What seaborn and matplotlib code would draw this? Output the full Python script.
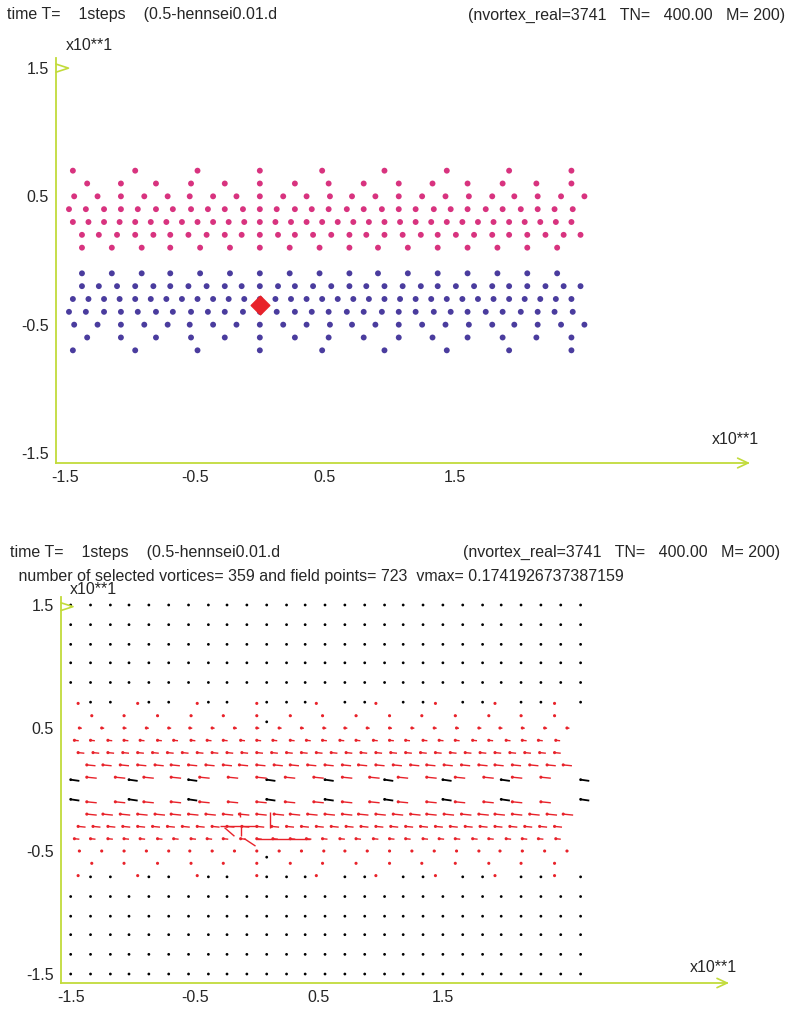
import matplotlib.pyplot as plt
import pandas as pd
import seaborn as sns
from matplotlib.collections import LineCollection

# vortex x positions (data units) of the upper band rows y=7..1; lower band mirrors it
ROW7_X = [-14.4, -9.6, -4.8, 0.0, 4.8, 9.6, 14.4, 19.2, 24.0]
ROW6_X = [-13.3, -10.7, -8.0, -5.3, -2.7, 0.0, 2.7, 5.3, 8.0, 10.7, 13.3, 16.0, 18.7, 21.3, 24.0]
ROW5_X = [-14.3, -12.5, -10.7, -8.9, -7.1, -5.4, -3.6, -1.8, 0.0, 1.8, 3.6, 5.4, 7.1, 8.9,
          10.7, 12.5, 14.3, 16.1, 17.9, 19.6, 21.4, 23.2, 25.0]
ROW4_X = [-14.7, -13.4, -12.0, -10.7, -9.4, -8.0, -6.7, -5.3, -4.0, -2.7, -1.3, 0.0, 1.3, 2.7,
          4.0, 5.3, 6.7, 8.0, 9.4, 10.7, 12.0, 13.4, 14.7, 16.0, 17.4, 18.7, 20.1, 21.4, 22.7, 24.1]
ROW3_X = [-14.4, -13.2, -12.0, -10.8, -9.6, -8.4, -7.2, -6.0, -4.8, -3.6, -2.4, -1.2, 0.0, 1.2,
          2.4, 3.6, 4.8, 6.0, 7.2, 8.4, 9.6, 10.8, 12.0, 13.2, 14.4, 15.6, 16.8, 18.0, 19.2,
          20.4, 21.6, 22.8, 24.0]
ROW2_X = [-13.7, -12.4, -11.0, -9.6, -8.2, -6.9, -5.5, -4.1, -2.7, -1.4, 0.0, 1.4, 2.7, 4.1,
          5.5, 6.9, 8.2, 9.6, 11.0, 12.4, 13.7, 15.1, 16.5, 17.9, 19.2, 20.6, 22.0, 23.4, 24.7]
ROW1_X = [-13.7, -11.4, -9.1, -6.9, -4.6, -2.3, 0.0, 2.3, 4.6, 6.9, 9.1, 11.4, 13.7, 16.0,
          18.3, 20.6, 22.9]
ROW_Y = [7, 6, 5, 4, 3, 2, 1]

SPECIAL_X, SPECIAL_Y = 0.0, -3.5

# horizontal velocity tail per vortex row (upper rows 7..1, lower rows -1..-7)
TAIL_UPPER = [0.0, 0.1, 0.2, 0.35, 0.5, 0.7, 0.8]
TAIL_LOWER = [0.8, 0.8, 0.6, 0.4, 0.1, 0.0, 0.0]

# large velocities around the marked vortex: x0, y0, x1, y1
SPECIAL_SEGS = [
    (-1.35, -1.8, -1.35, -2.2),
    (-1.3, -3.0, -1.3, -3.8),
    (1.1, -1.8, 1.1, -3.1),
    (-3.0, -3.0, 0.1, -3.0),
    (0.0, -4.0, 4.3, -4.0),
    (-2.6, -3.1, -1.8, -3.8),
    (-1.0, -4.0, -0.1, -4.6),
]

# field grid of the lower panel
GRID_X = [-15.0, -13.4, -11.8, -10.3, -8.7, -7.1, -5.5, -3.9, -2.4, -0.8, 0.8, 2.4, 3.9, 5.5,
          7.1, 8.7, 10.3, 11.8, 13.4, 15.0, 16.6, 18.2, 19.7, 21.3, 22.9, 24.5, 26.1]
GRID_Y = [15.0, 13.4, 11.8, 10.3, 8.7, 7.1, 5.5, 3.9, 2.4, 0.8, -0.8, -2.4, -3.9, -5.5, -7.1,
          -8.7, -10.3, -11.8, -13.4, -15.0]
# '.' field point, '>' field point with visible velocity, ' ' dropped (too close to a vortex)
FIELD_MASK = [
    "...........................",
    "...........................",
    "...........................",
    "...........................",
    "...........................",
    " .. .. .. ... .. .. .. .. .",
    "          .                ",
    "                           ",
    "                           ",
    ">  >  >   >  >  >  >  >   >",
    ">  >  >   >  >  >  >  >   >",
    "                           ",
    "                           ",
    "          .                ",
    " .. .. .. ... .. .. .. .. .",
    "...........................",
    "...........................",
    "...........................",
    "...........................",
    "...........................",
]
FIELD_TAIL = 0.7

PINK = "#d8337f"
BLUE = "#4a3c9e"
RED = "#e8222a"
AXIS = "#c2db3a"

W, H = 791, 1010
FONT = ["Liberation Sans", "DejaVu Sans"]
FS = 11.5


def vortex_frame() -> pd.DataFrame:
    rows = [ROW7_X, ROW6_X, ROW5_X, ROW4_X, ROW3_X, ROW2_X, ROW1_X]
    recs = []
    for y, xs, tu, tl in zip(ROW_Y, rows, TAIL_UPPER, TAIL_LOWER[::-1]):
        for x in xs:
            recs.append({"x": x, "y": y, "band": "upper", "tail": tu})
            recs.append({"x": x, "y": -y, "band": "lower", "tail": tl})
    return pd.DataFrame(recs)


def field_frame() -> pd.DataFrame:
    recs = []
    for y, line in zip(GRID_Y, FIELD_MASK):
        for x, c in zip(GRID_X, line):
            if c != " ":
                recs.append({"x": x, "y": y, "arrow": c == ">"})
    return pd.DataFrame(recs)


def px_axes(fig, left, top, right, bottom):
    return fig.add_axes([left / W, 1 - bottom / H, (right - left) / W, (bottom - top) / H])


def style_axes(ax, xlim, ylim):
    ax.set_xlim(xlim)
    ax.set_ylim(ylim)
    ax.set_facecolor("white")
    for s in ["top", "right"]:
        ax.spines[s].set_visible(False)
    for s in ["left", "bottom"]:
        ax.spines[s].set_color(AXIS)
        ax.spines[s].set_linewidth(1.3)
    ax.set_xticks([-15, -5, 5, 15], ["-1.5", "-0.5", "0.5", "1.5"])
    ax.set_yticks([-15, -5, 5, 15], ["-1.5", "-0.5", "0.5", "1.5"])
    ax.tick_params(direction="in", length=5, width=1.0, color=AXIS, labelsize=FS, pad=5)
    ax.set_xlabel("")
    ax.set_ylabel("")
    # open arrow heads at the axis ends
    ax.plot([0.985, 1.0, 0.985], [0.012, 0.0, -0.012], transform=ax.transAxes,
            color=AXIS, lw=1.2, clip_on=False)
    ax.plot([0.0, 0.018, 0.0], [0.985, 0.975, 0.965], transform=ax.transAxes,
            color=AXIS, lw=1.2, clip_on=False)


def fig_text(fig, x, y, s, **kw):
    fig.text(x / W, 1 - y / H, s, va="center", ha="left", fontsize=FS, family=FONT, **kw)


def main() -> None:
    sns.set_theme(style="white")
    plt.rcParams["font.family"] = FONT

    vort = vortex_frame()
    field = field_frame()

    fig = plt.figure(figsize=(W / 100, H / 100), dpi=100)
    fig.patch.set_facecolor("white")

    # ---- top panel: vortex positions
    ax1 = px_axes(fig, 56, 58, 748, 463)
    sns.scatterplot(data=vort, x="x", y="y", hue="band", palette={"upper": PINK, "lower": BLUE},
                    s=18, edgecolor="none", legend=False, ax=ax1)
    ax1.scatter([SPECIAL_X], [SPECIAL_Y], s=90, marker="D", color=RED, zorder=5)
    style_axes(ax1, (-15.7, 37.6), (-15.78, 15.78))

    fig_text(fig, 7, 15, "time T=    1steps    (0.5-hennsei0.01.d")
    fig_text(fig, 468, 15, "(nvortex_real=3741   TN=   400.00   M= 200)")
    fig_text(fig, 66, 45, "x10**1")
    fig_text(fig, 712, 440, "x10**1")

    # ---- bottom panel: velocity field
    ax2 = px_axes(fig, 61, 597, 727, 983)
    sns.scatterplot(data=field, x="x", y="y", color="black", s=4, edgecolor="none",
                    legend=False, ax=ax2)
    arr = field[field["arrow"]]
    ax2.add_collection(LineCollection(
        [[(x, y), (x + FIELD_TAIL, y - 0.1)] for x, y in zip(arr["x"], arr["y"])],
        colors="black", linewidths=1.3))
    ax2.add_collection(LineCollection(
        [[(x, y), (x + t, y - 0.1 * t)] for x, y, t in zip(vort["x"], vort["y"], vort["tail"])],
        colors=RED, linewidths=1.0))
    ax2.add_collection(LineCollection(
        [[(a, b), (c, d)] for a, b, c, d in SPECIAL_SEGS], colors=RED, linewidths=1.0))
    sns.scatterplot(data=vort, x="x", y="y", color=RED, s=5, edgecolor="none",
                    legend=False, ax=ax2)
    style_axes(ax2, (-15.78, 37.9), (-15.73, 15.65))

    fig_text(fig, 10, 552, "time T=    1steps    (0.5-hennsei0.01.d")
    fig_text(fig, 463, 552, "(nvortex_real=3741   TN=   400.00   M= 200)")
    fig_text(fig, 14, 576, " number of selected vortices= 359 and field points= 723  vmax= 0.1741926737387159")
    fig_text(fig, 70, 590, "x10**1")
    fig_text(fig, 690, 967, "x10**1")

    fig.savefig("out.png", dpi=100)
    plt.close(fig)


if __name__ == "__main__":
    main()
